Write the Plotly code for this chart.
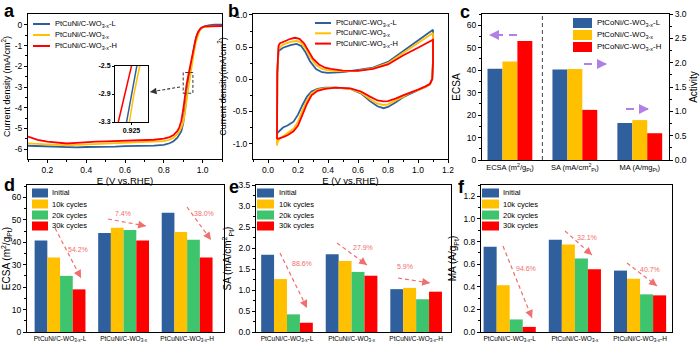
import math
import plotly.graph_objects as go

W, H = 700, 345
FONT = "Liberation Sans, Arial, sans-serif"

# ---------------- data ----------------
names_cu = ["PtCuNi/C-WO<sub>3-x</sub>-L", "PtCuNi/C-WO<sub>3-x</sub>", "PtCuNi/C-WO<sub>3-x</sub>-H"]
names_co = ["PtCoNi/C-WO<sub>3-x</sub>-L", "PtCoNi/C-WO<sub>3-x</sub>", "PtCoNi/C-WO<sub>3-x</sub>-H"]
cycles = ["Initial", "10k cycles", "20k cycles", "30k cycles"]

# (a) LSV
lsv_E_L = [0.10, 0.15, 0.20, 0.25, 0.30, 0.35, 0.40, 0.45, 0.50, 0.55, 0.60, 0.65, 0.70, 0.75, 0.80, 0.83, 0.85,
           0.87, 0.89, 0.90, 0.91, 0.919, 0.925, 0.931, 0.94, 0.95, 0.96, 0.97, 0.98, 1.00, 1.03, 1.06, 1.10]
lsv_j_L = [-5.84, -5.86, -5.88, -5.90, -5.93, -5.92, -5.90, -5.90, -5.88, -5.88, -5.86, -5.86, -5.85, -5.83, -5.80,
           -5.72, -5.62, -5.45, -5.15, -4.75, -4.05, -3.30, -2.90, -2.50, -1.95, -1.38, -0.88, -0.50, -0.28, -0.10,
           -0.02, 0.02, 0.02]
lsv_E_M = [0.10, 0.15, 0.20, 0.25, 0.30, 0.35, 0.40, 0.45, 0.50, 0.55, 0.60, 0.65, 0.70, 0.75, 0.80, 0.83, 0.85,
           0.87, 0.89, 0.90, 0.91, 0.922, 0.928, 0.935, 0.945, 0.955, 0.965, 0.975, 0.985, 1.00, 1.03, 1.06, 1.10]
lsv_j_M = [-5.72, -5.75, -5.78, -5.80, -5.82, -5.80, -5.78, -5.76, -5.74, -5.73, -5.72, -5.71, -5.69, -5.66, -5.62,
           -5.55, -5.45, -5.28, -4.98, -4.70, -4.20, -3.30, -2.90, -2.50, -1.90, -1.35, -0.85, -0.48, -0.25, -0.12,
           -0.07, -0.05, -0.05]
lsv_E_H = [0.10, 0.15, 0.20, 0.25, 0.30, 0.35, 0.40, 0.45, 0.50, 0.55, 0.60, 0.65, 0.70, 0.75, 0.80, 0.83, 0.85,
           0.87, 0.88, 0.89, 0.90, 0.909, 0.917, 0.925, 0.935, 0.945, 0.955, 0.965, 0.975, 0.99, 1.01, 1.05, 1.10]
lsv_j_H = [-5.40, -5.55, -5.64, -5.70, -5.73, -5.70, -5.66, -5.64, -5.63, -5.62, -5.61, -5.60, -5.58, -5.55, -5.50,
           -5.42, -5.32, -5.12, -4.95, -4.65, -4.10, -3.30, -2.90, -2.50, -2.00, -1.50, -1.05, -0.65, -0.38, -0.16,
           -0.07, -0.05, -0.05]

# (b) CV loops
cv_E_L = [0.06, 0.062, 0.07, 0.10, 0.15, 0.19, 0.22, 0.25, 0.28, 0.32, 0.36, 0.40, 0.50, 0.60, 0.70, 0.80, 0.90,
          1.00, 1.10, 1.10, 1.095, 1.08, 1.05, 1.00, 0.95, 0.90, 0.85, 0.80, 0.77, 0.73, 0.68, 0.62, 0.55, 0.45,
          0.38, 0.33, 0.29, 0.26, 0.23, 0.20, 0.17, 0.13, 0.10, 0.08, 0.065, 0.06]
cv_j_L = [-0.85, 0.10, 0.44, 0.49, 0.53, 0.55, 0.52, 0.42, 0.28, 0.16, 0.11, 0.10, 0.11, 0.14, 0.18, 0.27, 0.44,
          0.60, 0.77, 0.30, 0.02, -0.08, -0.12, -0.17, -0.22, -0.28, -0.36, -0.43, -0.45, -0.42, -0.34, -0.22,
          -0.15, -0.13, -0.13, -0.15, -0.19, -0.27, -0.40, -0.55, -0.66, -0.72, -0.75, -0.79, -0.83, -0.85]
cv_E_M = [0.06, 0.062, 0.07, 0.10, 0.15, 0.19, 0.22, 0.25, 0.28, 0.32, 0.36, 0.40, 0.50, 0.60, 0.70, 0.80, 0.90,
          1.00, 1.10, 1.10, 1.095, 1.08, 1.05, 1.00, 0.95, 0.90, 0.85, 0.80, 0.77, 0.73, 0.68, 0.62, 0.55, 0.45,
          0.38, 0.33, 0.29, 0.26, 0.23, 0.20, 0.17, 0.13, 0.10, 0.08, 0.065, 0.06]
cv_j_M = [-1.03, 0.10, 0.48, 0.54, 0.58, 0.595, 0.57, 0.48, 0.35, 0.22, 0.16, 0.14, 0.125, 0.135, 0.17, 0.25,
          0.41, 0.57, 0.72, 0.30, 0.00, -0.08, -0.12, -0.17, -0.21, -0.27, -0.33, -0.39, -0.40, -0.38, -0.31,
          -0.21, -0.15, -0.13, -0.14, -0.16, -0.22, -0.33, -0.48, -0.66, -0.77, -0.84, -0.88, -0.92, -0.97, -1.03]
cv_E_H = [0.06, 0.062, 0.07, 0.08, 0.10, 0.15, 0.18, 0.21, 0.24, 0.27, 0.30, 0.34, 0.38, 0.42, 0.50, 0.60, 0.70,
          0.80, 0.90, 1.00, 1.10, 1.10, 1.095, 1.08, 1.05, 1.00, 0.95, 0.90, 0.85, 0.80, 0.77, 0.73, 0.68, 0.62,
          0.55, 0.45, 0.38, 0.33, 0.29, 0.26, 0.23, 0.20, 0.17, 0.13, 0.10, 0.08, 0.06]
cv_j_H = [-0.93, 0.10, 0.52, 0.56, 0.58, 0.63, 0.645, 0.63, 0.56, 0.44, 0.32, 0.23, 0.18, 0.16, 0.135, 0.13, 0.16,
          0.23, 0.37, 0.49, 0.615, 0.25, 0.00, -0.07, -0.11, -0.16, -0.20, -0.25, -0.30, -0.34, -0.345, -0.33,
          -0.27, -0.19, -0.14, -0.13, -0.15, -0.18, -0.25, -0.38, -0.55, -0.72, -0.81, -0.87, -0.90, -0.91, -0.93]

# (c) activity summary
c_categories = ["ECSA (m<sup>2</sup>/g<sub>Pt</sub>)", "SA (mA/cm<sup>2</sup><sub>Pt</sub>)", "MA (A/mg<sub>Pt</sub>)"]
c_ecsa = [40.6, 43.9, 53.0]
c_sa = [1.86, 1.87, 1.03]
c_ma = [0.76, 0.82, 0.55]

# (d)-(f) durability: rows = cycles, columns = samples
d_ecsa = [[40.8, 44.1, 53.1], [33.2, 46.4, 44.6], [25.0, 45.5, 41.1], [19.0, 40.8, 33.2]]
e_sa = [[1.84, 1.85, 1.02], [1.26, 1.69, 1.05], [0.42, 1.43, 0.78], [0.22, 1.34, 0.96]]
f_ma = [[0.753, 0.816, 0.543], [0.414, 0.774, 0.471], [0.111, 0.651, 0.333], [0.045, 0.555, 0.324]]
d_pct = ["54.2%", "7.4%", "38.0%"]
e_pct = ["88.6%", "27.9%", "5.9%"]
f_pct = ["94.6%", "32.1%", "40.7%"]

# ---------------- styling ----------------
col3 = ["#2f5f9d", "#ffc000", "#ff0000"]
col4 = ["#2f5f9d", "#ffc000", "#3ec46c", "#ff0000"]
PCT = "#f26d6d"
PURPLE = "#b27fe6"


def px(x):
    return x / W


def py(y):
    return 1 - y / H


def dom_x(a, b):
    return [px(a), px(b)]


def dom_y(top, bot):
    return [py(bot), py(top)]


def axis(**kw):
    d = dict(showline=True, linecolor="black", linewidth=1, mirror=True, ticks="outside", ticklen=3,
             tickwidth=1, tickcolor="black", showgrid=False, zeroline=False, automargin=False,
             tickfont=dict(size=8.5, color="black", family=FONT),
             title_font=dict(size=9, color="black", family=FONT))
    d.update(kw)
    return d


fig = go.Figure()
shapes, annotations = [], []

# ---- (a) ----
for E, j, c in [(lsv_E_L, lsv_j_L, col3[0]), (lsv_E_M, lsv_j_M, col3[1]), (lsv_E_H, lsv_j_H, col3[2])]:
    fig.add_trace(go.Scatter(x=E, y=j, mode="lines", line=dict(color=c, width=1.8), xaxis="x", yaxis="y"))
    fig.add_trace(go.Scatter(x=E, y=j, mode="lines", line=dict(color=c, width=1.5), xaxis="x2", yaxis="y2"))

# ---- (b) ----
for E, j, c in [(cv_E_L, cv_j_L, col3[0]), (cv_E_M, cv_j_M, col3[1]), (cv_E_H, cv_j_H, col3[2])]:
    fig.add_trace(go.Scatter(x=E, y=j, mode="lines", line=dict(color=c, width=1.8), xaxis="x3", yaxis="y3"))

# ---- (c) ----
cw = 0.23
for i in range(3):
    off = -1.5 * cw + i * cw
    fig.add_trace(go.Bar(x=[c_categories[0]], y=[c_ecsa[i]], width=cw, offset=off,
                         marker=dict(color=col3[i], line=dict(width=0)), xaxis="x4", yaxis="y4"))
    fig.add_trace(go.Bar(x=c_categories[1:], y=[c_sa[i], c_ma[i]], width=cw, offset=off,
                         marker=dict(color=col3[i], line=dict(width=0)), xaxis="x4", yaxis="y5"))

# ---- (d)-(f) ----
bw = 0.2
for vals, xa, ya in [(d_ecsa, "x6", "y6"), (e_sa, "x7", "y7"), (f_ma, "x8", "y8")]:
    for k in range(4):
        fig.add_trace(go.Bar(x=names_cu, y=vals[k], width=bw, offset=-2 * bw + k * bw,
                             marker=dict(color=col4[k], line=dict(width=0)), xaxis=xa, yaxis=ya))

# ---------------- axes ----------------
TOP_A, BOT_A = 14, 159
TOP_B, BOT_B = 185, 332
cat_font = dict(size=6.5, color="black", family=FONT)
layout_axes = dict(
    xaxis=axis(domain=dom_x(28, 222), range=[0.1, 1.1], anchor="y", dtick=0.2, tick0=0, tickformat=".1f",
               minor=dict(ticks="outside", ticklen=2, dtick=0.1, tickcolor="black"),
               title=dict(text="E (V vs.RHE)", standoff=0, font=dict(size=9.5))),
    yaxis=axis(domain=dom_y(TOP_A, BOT_A), range=[-6.48, 0.53], anchor="x",
               tickmode="array", tickvals=[0, -1, -2, -3, -4, -5, -6], ticktext=["0", "-1", "-2", "-3", "-4", "-5", "-6"],
               minor=dict(ticks="outside", ticklen=2, tickmode="array",
                          tickvals=[-0.5, -1.5, -2.5, -3.5, -4.5, -5.5], tickcolor="black"),
               title=dict(text="Current density (mA/cm<sup>2</sup>)", standoff=4)),
    xaxis2=axis(domain=dom_x(115, 148), range=[0.905, 0.945], anchor="y2", tickmode="array", tickvals=[0.925],
                ticktext=["<b>0.925</b>"], ticklen=2, tickfont=dict(size=7, color="black", family=FONT)),
    yaxis2=axis(domain=dom_y(66, 122), range=[-3.3, -2.5], anchor="x2", tickmode="array",
                tickvals=[-2.5, -2.9, -3.3], ticktext=["<b>-2.5</b>", "<b>-2.9</b>", "<b>-3.3</b>"], ticklen=2,
                tickfont=dict(size=7, color="black", family=FONT)),
    xaxis3=axis(domain=dom_x(253, 448), range=[-0.1, 1.2], anchor="y3", dtick=0.2, tick0=0, tickformat=".1f",
                minor=dict(ticks="outside", ticklen=2, dtick=0.1, tickcolor="black"),
                title=dict(text="E (V vs.RHE)", standoff=0, font=dict(size=9.5))),
    yaxis3=axis(domain=dom_y(TOP_A, BOT_A), range=[-1.24, 1.015], anchor="x3", tickmode="array",
                tickvals=[-1.0, -0.5, 0.0, 0.5, 1.0], ticktext=["-1.0", "-0.5", "0.0", "0.5", "1.0"],
                minor=dict(ticks="outside", ticklen=2, tickmode="array", tickvals=[-0.75, -0.25, 0.25, 0.75],
                           tickcolor="black"),
                title=dict(text="Current density(mA/cm<sup>2</sup>)", standoff=4)),
    xaxis4=axis(domain=dom_x(482, 669), range=[-0.43, 2.45], anchor="y4", type="category", ticks="", ticklen=0,
                tickfont=dict(size=7.5, color="black", family=FONT)),
    yaxis4=axis(domain=dom_y(TOP_A, 160), range=[0, 65], anchor="x4", dtick=10, mirror=False,
                minor=dict(ticks="outside", ticklen=2, dtick=5, tickcolor="black"),
                title=dict(text="ECSA", standoff=4, font=dict(size=10))),
    yaxis5=axis(range=[0, 3.0], overlaying="y4", side="right", anchor="x4", dtick=0.5, tickformat=".1f",
                mirror=False, minor=dict(ticks="outside", ticklen=2, dtick=0.25, tickcolor="black"),
                title=dict(text="Activity", standoff=4, font=dict(size=10))),
    xaxis6=axis(domain=dom_x(27, 224), range=[-0.52, 2.58], anchor="y6", type="category", ticks="", ticklen=0,
                tickfont=cat_font),
    yaxis6=axis(domain=dom_y(TOP_B, BOT_B), range=[0, 65.5], anchor="x6", dtick=10,
                minor=dict(ticks="outside", ticklen=2, dtick=5, tickcolor="black"),
                title=dict(text="ECSA (m<sup>2</sup>/g<sub>Pt</sub>)", standoff=4, font=dict(size=10))),
    xaxis7=axis(domain=dom_x(256, 451), range=[-0.48, 2.54], anchor="y7", type="category", ticks="", ticklen=0,
                tickfont=cat_font),
    yaxis7=axis(domain=dom_y(TOP_B, BOT_B), range=[0, 3.5], anchor="x7", dtick=0.5, tickformat=".1f",
                minor=dict(ticks="outside", ticklen=2, dtick=0.25, tickcolor="black"),
                title=dict(text="SA (mA/cm<sup>2</sup><sub>Pt</sub>)", standoff=4, font=dict(size=10))),
    xaxis8=axis(domain=dom_x(481, 672), range=[-0.44, 2.49], anchor="y8", type="category", ticks="", ticklen=0,
                tickfont=cat_font),
    yaxis8=axis(domain=dom_y(TOP_B, BOT_B), range=[0, 1.3], anchor="x8", dtick=0.2, tickformat=".1f",
                minor=dict(ticks="outside", ticklen=2, dtick=0.1, tickcolor="black"),
                title=dict(text="MA (A/g<sub>Pt</sub>)", standoff=4, font=dict(size=10))),
)


# ---------------- decorations ----------------
def text(x, y, s, size, color="black", xanchor="center", yanchor="middle"):
    annotations.append(dict(x=px(x), y=py(y), xref="paper", yref="paper", text=s, showarrow=False,
                            font=dict(size=size, color=color, family=FONT), xanchor=xanchor, yanchor=yanchor))


def dashed_arrow(x0, y0, x1, y1, color, width=1.2, dash="4px,3px", asize=1.3):
    shapes.append(dict(type="line", xref="paper", yref="paper", x0=px(x0), y0=py(y0), x1=px(x1), y1=py(y1),
                       line=dict(color=color, width=width, dash=dash)))
    L = math.hypot(x1 - x0, y1 - y0)
    ux, uy = (x0 - x1) / L, (y0 - y1) / L
    annotations.append(dict(x=px(x1), y=py(y1), xref="paper", yref="paper", ax=ux * 5, ay=uy * 5, text="",
                            showarrow=True, arrowhead=2, arrowsize=asize, arrowwidth=width, arrowcolor=color,
                            standoff=0))


def legend_line(x0, x1, y, color, label, size, tx):
    shapes.append(dict(type="line", xref="paper", yref="paper", x0=px(x0), x1=px(x1), y0=py(y), y1=py(y),
                       line=dict(color=color, width=2)))
    text(tx, y, label, size, xanchor="left")


def legend_box(x0, x1, yc, h, color, label, size, tx):
    shapes.append(dict(type="rect", xref="paper", yref="paper", x0=px(x0), x1=px(x1), y0=py(yc + h / 2),
                       y1=py(yc - h / 2), fillcolor=color, line=dict(width=0)))
    text(tx, yc, label, size, xanchor="left")


# panel letters
for lx, ly, s in [(9, 11, "a"), (233, 11, "b"), (465, 12, "c"), (9, 185, "d"), (234, 187, "e"), (461, 187, "f")]:
    text(lx, ly, "<b>%s</b>" % s, 18)

# legends (a), (b)
for i in range(3):
    legend_line(33, 50, 24 + 11 * i, col3[i], names_cu[i], 7.5, 53)
    legend_line(315, 331, 23 + 10.3 * i, col3[i], names_cu[i], 7.5, 334)
# legend (c)
for i in range(3):
    legend_box(573, 592, 23 + 12 * i, 10, col3[i], names_co[i], 7.8, 595)
# legends (d)-(f)
for x0, x1, tx in [(32, 48, 50), (257, 274, 277), (482, 499, 501)]:
    for k in range(4):
        legend_box(x0, x1, 193 + 11 * k, 9, col4[k], cycles[k], 7.5, tx)

# inset marker in (a)
shapes.append(dict(type="rect", xref="x", yref="y", x0=0.90, x1=0.95, y0=-3.3, y1=-2.3,
                   line=dict(color="#333333", width=1, dash="3px,2px")))
dashed_arrow(180, 87, 150, 92, "#333333", width=1.1, dash="3px,2px", asize=1.2)

# (c) separator and purple arrows
shapes.append(dict(type="line", xref="x4", yref="y4", x0=0.5, x1=0.5, y0=0, y1=65,
                   line=dict(color="#444444", width=1, dash="4px,3px")))
dashed_arrow(517, 35, 489, 35, PURPLE, width=2, dash="8px,6px", asize=1.0)
dashed_arrow(584, 64, 607, 64, PURPLE, width=2, dash="8px,6px", asize=1.0)
dashed_arrow(626, 109, 649, 109, PURPLE, width=2, dash="8px,6px", asize=1.0)

# (d)-(f) percentage changes
pct_specs = [
    (d_pct, [((55, 228), (81, 278), (78, 249)), ((108, 219), (146, 226), (123, 213)), ((187, 207), (211, 240), (204, 213))]),
    (e_pct, [((280, 253), (307, 308), (302, 263)), ((337, 243), (367, 265), (363, 247)), ((398, 278), (430, 283), (405, 266))]),
    (f_pct, [((503, 246), (532, 318), (526, 268)), ((565, 231), (592, 255), (587, 237)), ((627, 263), (657, 286), (650, 269))]),
]
for labels, geo in pct_specs:
    for lab, (p0, p1, pt) in zip(labels, geo):
        dashed_arrow(p0[0], p0[1], p1[0], p1[1], PCT, width=1.2, dash="4px,3px", asize=1.3)
        text(pt[0], pt[1], lab, 7, color=PCT)

fig.update_layout(
    width=W, height=H, margin=dict(l=0, r=0, t=0, b=0), showlegend=False,
    paper_bgcolor="white", plot_bgcolor="white", font=dict(family=FONT, color="black"),
    shapes=shapes, annotations=annotations, **layout_axes,
)

fig.write_html("out.html", config={"displayModeBar": False},
               post_script="document.body.style.margin='0px';")
